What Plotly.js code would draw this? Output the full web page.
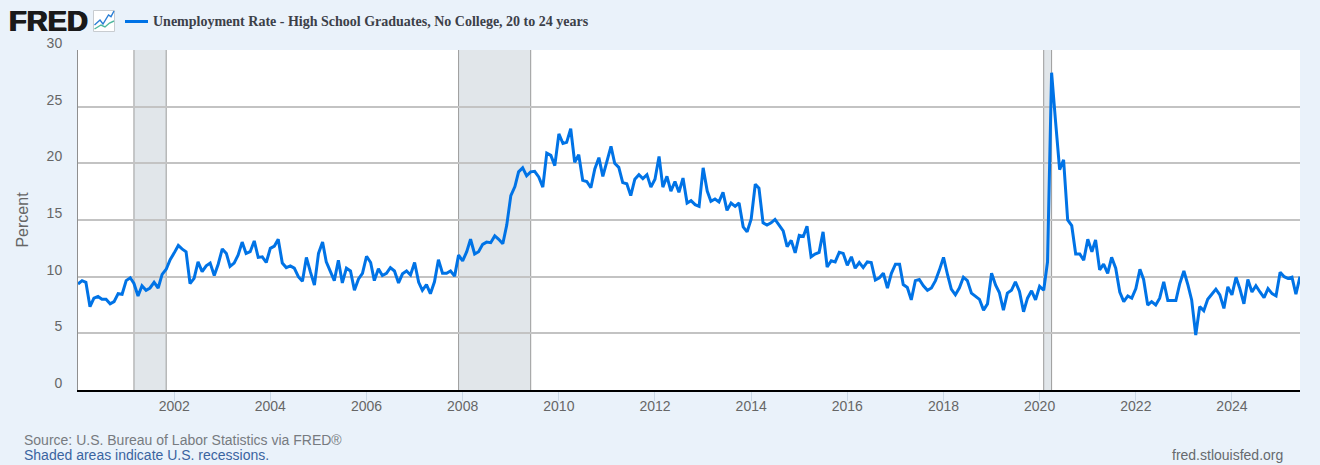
<!DOCTYPE html>
<html><head><meta charset="utf-8">
<script src="https://cdn.plot.ly/plotly-3.0.1.min.js"></script>
<style>html,body{margin:0;padding:0;background:#eaf2fa;overflow:hidden}#c{width:1320px;height:465px}</style>
</head><body><div id="c"></div>
<script>
const seriesName = "Unemployment Rate - High School Graduates, No College, 20 to 24 years";
const startYear = 2000;
const values2000to2004 = [9.35,9.65,9.5,7.35,8.1,8.25,8.0,8.0,7.6,7.8,8.5,8.45,
 9.65,9.9,9.4,8.3,9.2,8.8,9.0,9.5,9.0,10.2,10.65,11.5,
 12.1,12.75,12.45,12.2,9.4,9.85,11.3,10.45,10.95,11.2,10.1,11.1,
 12.45,12.05,10.9,11.2,11.9,13.05,12.05,12.2,13.15,11.7,11.75,11.25,
 12.5,12.7,13.3,11.2,10.8,10.95,10.75,10.0,9.6,11.7,10.4,9.25];
const values2005to2009 = [12.05,13.05,11.3,10.5,9.65,11.45,9.45,10.75,10.5,8.8,9.8,10.3,
 11.8,11.25,9.65,10.7,10.1,10.3,10.8,10.5,9.45,10.25,10.5,10.15,
 11.25,9.5,8.8,9.3,8.5,9.55,11.5,10.3,10.3,10.5,10.05,11.9,
 11.4,12.2,13.3,12.0,12.2,12.85,13.05,13.0,13.6,13.3,12.9,14.55,
 17.15,17.95,19.25,19.6,18.9,19.25,19.3,18.8,17.9,20.9,20.7,19.8];
const values2010to2014 = [22.6,21.75,21.85,23.05,20.1,20.75,18.5,18.4,17.85,19.5,20.5,18.85,
 20.1,21.5,20.0,19.65,18.3,18.2,17.15,18.6,19.0,18.65,19.0,17.9,
 18.6,20.6,17.9,18.85,17.55,18.4,17.45,18.7,16.5,16.7,16.35,16.2,
 19.6,17.55,16.65,16.85,16.6,17.45,15.85,16.5,16.2,16.5,14.4,13.95,
 15.1,18.15,17.8,14.75,14.55,14.75,15.05,14.6,14.05,12.65,13.2,12.1];
const values2015to2019 = [13.65,13.55,14.45,11.75,12.0,12.15,13.95,10.85,11.4,11.3,12.15,12.05,
 11.0,11.75,10.75,11.25,10.8,11.3,11.25,9.7,9.9,10.3,9.0,10.3,
 11.1,11.1,9.3,9.05,7.95,9.65,9.75,9.2,8.8,9.0,9.65,10.6,
 11.7,10.15,8.9,8.4,9.0,9.95,9.65,8.55,8.3,8.0,7.05,7.6,
 10.3,9.25,8.6,7.05,8.55,8.8,9.55,8.7,6.9,8.1,8.75,7.95];
const values2020to2025 = [9.15,8.8,11.3,28.0,23.7,19.45,20.3,15.0,14.5,12.0,12.0,11.45,
 13.3,12.2,13.25,10.6,11.1,10.3,11.7,10.75,8.65,7.8,8.3,8.1,
 8.95,10.65,9.75,7.5,7.8,7.5,8.1,9.55,7.9,7.9,7.9,9.4,
 10.5,9.25,7.95,4.85,7.35,7.0,8.0,8.45,8.9,8.4,7.2,9.1,
 8.4,9.95,8.95,7.6,9.75,8.65,9.2,8.65,8.15,8.95,8.5,8.3,
 10.4,10.0,9.85,9.95,8.45,10.0];
const recessionStarts = ["2001-03-01","2007-12-01","2020-02-01"];
const recessionEnds = ["2001-11-01","2009-06-01","2020-04-01"];
const yTicks = [0,5,10,15,20,25,30];
const xTickYears = [2002,2004,2006,2008,2010,2012,2014,2016,2018,2020,2022,2024];
const xRange = ["2000-01-01","2025-06-01"];

const values = [].concat(values2000to2004,values2005to2009,values2010to2014,values2015to2019,values2020to2025);
const dates = values.map((_,i)=>{
  const y = startYear+Math.floor(i/12), m = i%12+1;
  return y+"-"+String(m).padStart(2,"0")+"-01";
});

const shapes = [];
recessionStarts.forEach((s,i)=>{
  const e = recessionEnds[i];
  shapes.push({type:"rect",layer:"below",xref:"x",yref:"paper",x0:s,x1:e,y0:0,y1:1,fillcolor:"#e1e6ea",line:{width:0}});
  [s,e].forEach(d=>shapes.push({type:"line",layer:"below",xref:"x",yref:"paper",x0:d,x1:d,y0:0,y1:1,line:{color:"#9b9b9b",width:1}}));
});
const W=1320,H=465,L=78,R=20,T=50,B=75;
const px=x=>(x-L)/(W-L-R), py=y=>(H-B-y)/(H-T-B);
function paperPath(pts){return "M"+pts.map(p=>px(p[0]).toFixed(5)+","+py(p[1]).toFixed(5)).join(" L");}
// FRED logo icon and legend sample
shapes.push({type:"rect",xref:"paper",yref:"paper",x0:px(93.5),x1:px(114.5),y0:py(10.5),y1:py(31.5),fillcolor:"#ffffff",line:{color:"#c8ccd0",width:1}});
shapes.push({type:"path",xref:"paper",yref:"paper",path:paperPath([[94.5,25],[100,20],[103,24],[108.5,15],[111,16.7],[114,11]]),line:{color:"#2b7fd6",width:1.4}});
shapes.push({type:"path",xref:"paper",yref:"paper",path:paperPath([[94.5,29],[101,25],[105,27],[109.5,23],[114,21]]),line:{color:"#4fb89e",width:1.4}});
shapes.push({type:"line",xref:"paper",yref:"paper",x0:px(125),x1:px(148),y0:py(21.5),y1:py(21.5),line:{color:"#0073e6",width:3}});

const note=(text,x,y,size,color,anchor,extra)=>Object.assign({text,xref:"paper",yref:"paper",x:px(x),y:py(y),xanchor:anchor||"left",yanchor:"middle",showarrow:false,font:{family:"Liberation Sans, Arial, sans-serif",size,color},borderpad:0},extra||{});
const annotations=[
 note("<b>FRED</b>",7.5,20.5,29,"#1a1a1a","left",{font:{family:"Liberation Sans, Arial, sans-serif",size:29,color:"#1a1a1a",weight:900,shadow:"0.7px 0 0 #1a1a1a, -0.7px 0 0 #1a1a1a"}}),
 note("<b>"+seriesName+"</b>",152,21,14,"#3c4048","left",{font:{family:"Liberation Serif, Times New Roman, serif",size:14,color:"#3c4048"}}),
 note("Source: U.S. Bureau of Labor Statistics via FRED®",22.5,440,14,"#777b80"),
 note("Shaded areas indicate U.S. recessions.",22.5,455,14,"#3a64a0"),
 note("fred.stlouisfed.org",1284,455,14,"#666a6e","right")
];

Plotly.newPlot("c",[{
  type:"scatter",mode:"lines",name:seriesName,x:dates,y:values,
  line:{color:"#0073e6",width:3,shape:"linear"},hoverinfo:"x+y"
}],{
  width:W,height:H,showlegend:false,
  margin:{l:L,r:R,t:T,b:B,pad:0},
  paper_bgcolor:"#eaf2fa",plot_bgcolor:"#ffffff",
  font:{family:"Liberation Sans, Arial, sans-serif",size:14,color:"#666666"},
  xaxis:{type:"date",range:xRange,tickmode:"array",tickvals:xTickYears.map(y=>y+"-01-01"),ticktext:xTickYears.map(String),
    ticks:"outside",ticklen:9,tickwidth:1,tickcolor:"#c9d8e6",showgrid:false,ticklabelstandoff:-7,
    showline:true,linecolor:"#000000",linewidth:2,tickfont:{size:14,color:"#666666"},zeroline:false,automargin:false},
  yaxis:{range:[0,30],tickmode:"array",tickvals:yTicks,ticktext:yTicks.map(String),
    ticks:"",ticklabelshift:-7,ticklabelstandoff:12,showgrid:true,gridcolor:"#c3c3c3",gridwidth:2,
    showline:true,linecolor:"#8f8f8f",linewidth:1,zeroline:false,tickfont:{size:14,color:"#666666"},
    title:{text:"Percent",standoff:14,font:{size:16,color:"#666666"}},automargin:false},
  shapes,annotations
},{displayModeBar:false,staticPlot:true});
</script></body></html>
